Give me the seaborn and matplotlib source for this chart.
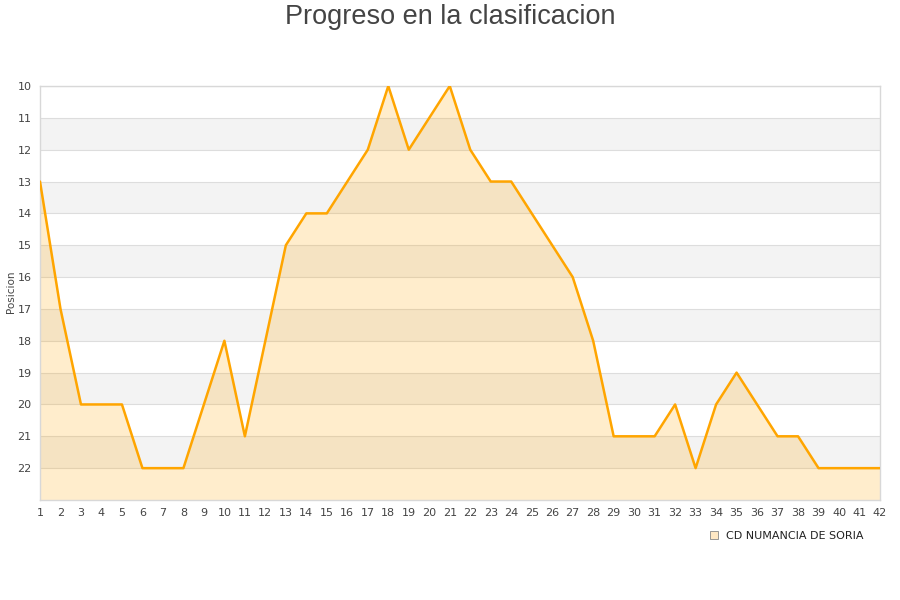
import numpy as np
import matplotlib.pyplot as plt
import pandas as pd
import seaborn as sns

# Datos de la clasificacion
jornadas = list(range(1, 43))
posiciones = [13, 17, 20, 20, 20, 22, 22, 22, 20, 18,
              21, 18, 15, 14, 14, 13, 12, 10, 12, 11,
              10, 12, 13, 13, 14, 15, 16, 18, 21, 21,
              21, 20, 22, 20, 19, 20, 21, 21, 22, 22,
              22, 22]
equipo = 'CD NUMANCIA DE SORIA'
titulo = 'Progreso en la clasificacion'

df = pd.DataFrame({'jornada': jornadas, 'posicion': posiciones})

sns.set_style('white')
plt.rcParams['font.family'] = ['DejaVu Sans']

fig = plt.figure(figsize=(9, 6), dpi=100)
ax = fig.add_axes([40/900, 100/600, 840/900, 414/600])

# bandas alternas
for y in range(11, 23, 2):
    ax.axhspan(y, y + 1, color='#f3f3f3', zorder=0, lw=0)
for y in range(10, 23):
    ax.axhline(y, color='#dddddd', lw=0.8, zorder=1)

ax.fill_between(df.jornada, df.posicion, 23, color='#ffa500', alpha=0.2, lw=0, zorder=2)
sns.lineplot(data=df, x='jornada', y='posicion', color='#ffa500', lw=1.8, ax=ax, zorder=3)

ax.set_xlim(1, 42)
ax.set_ylim(23, 10)
ax.set_xticks(jornadas)
ax.set_yticks(range(10, 23))
ax.tick_params(axis='both', labelsize=8, colors='#444444', length=0, pad=6)
ax.set_xlabel('')
ax.set_ylabel('')
for s in ax.spines.values():
    s.set_color('#d8d8d8')
    s.set_linewidth(1)

fig.text(11/900, 1 - 292/600, 'Posicion', rotation=90, ha='center', va='center',
         fontsize=7.5, color='#444444')
fig.text(0.5, 1 - 17/600, titulo, ha='center', va='center', fontsize=19.5, color='#444444',
         family='Liberation Sans')

# leyenda
from matplotlib.patches import Patch
h = [Patch(facecolor='#ffe8c4', edgecolor='#888888', lw=0.6, label=equipo)]
fig.legend(handles=h, loc='center right', bbox_to_anchor=(874/900, 1 - 536/600), frameon=False,
           fontsize=8, handlelength=0.7, handleheight=0.7, handletextpad=0.8,
           labelcolor='#222222')

fig.savefig('out.png', dpi=100)
